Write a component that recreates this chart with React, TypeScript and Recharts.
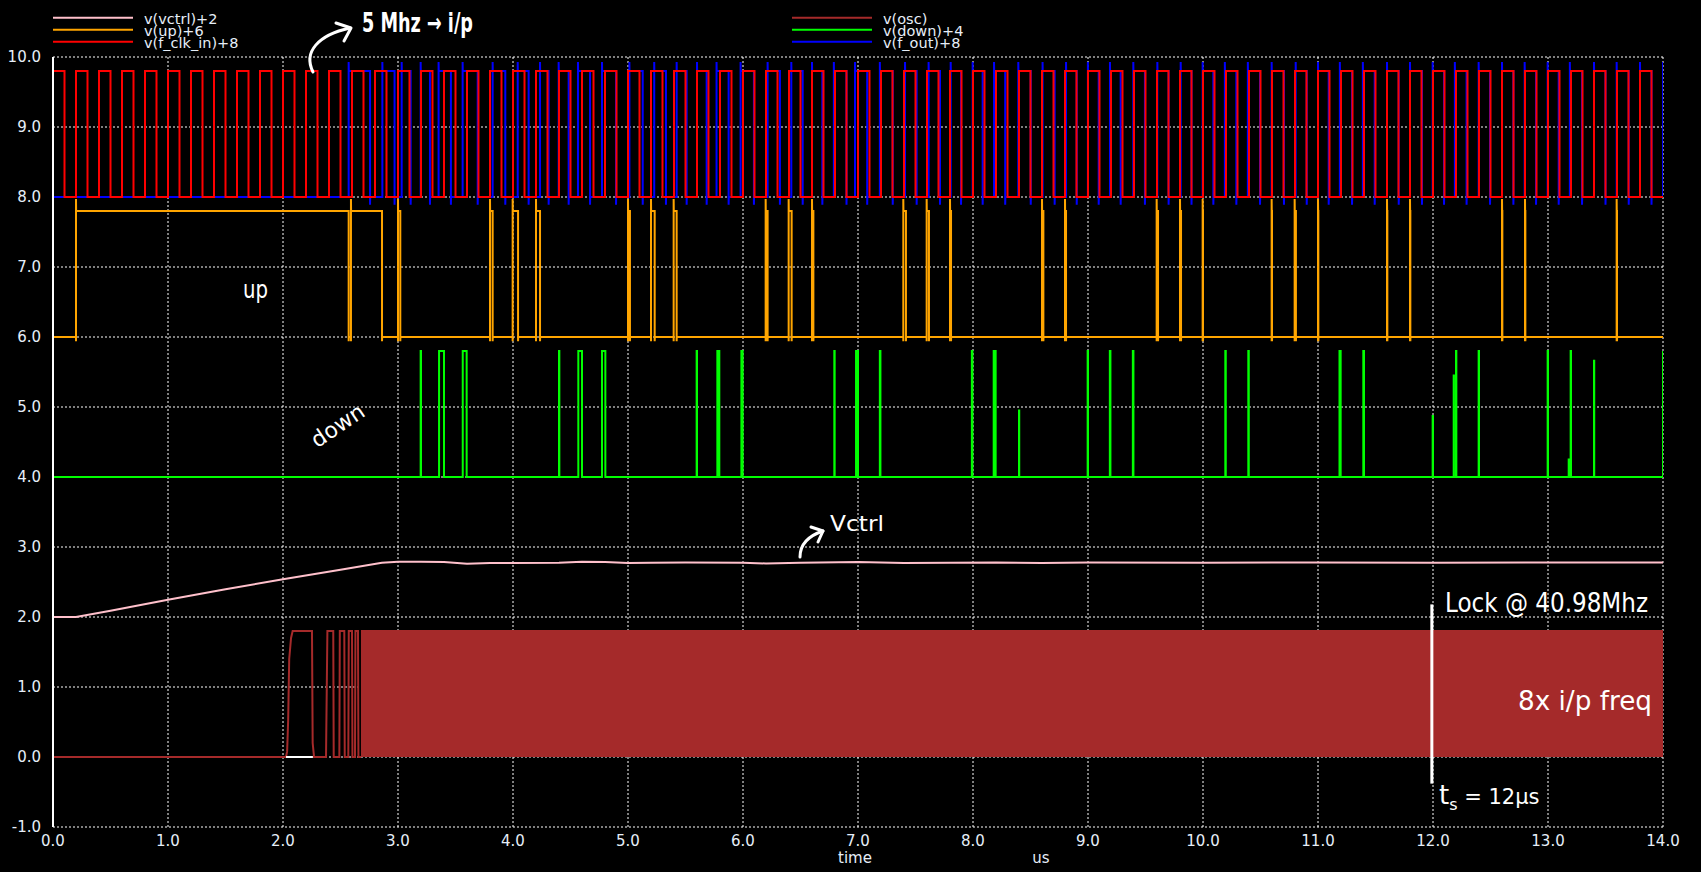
import {
  ComposedChart,
  Line,
  Area,
  XAxis,
  YAxis,
  CartesianGrid,
  ReferenceLine,
} from 'recharts';

const W = 1701;
const H = 872;

const X_TICKS = [0, 1, 2, 3, 4, 5, 6, 7, 8, 9, 10, 11, 12, 13, 14];
const Y_TICKS = [-1, 0, 1, 2, 3, 4, 5, 6, 7, 8, 9, 10];

const TEXT = '#e6eef8';
const FONT = '"DejaVu Sans", sans-serif';
const EPS = 0.001;

// v(f_clk_in)+8 : 5 MHz reference clock, rising edges in us
const CLK_RISE = [
  0, 0.2, 0.4, 0.6, 0.8, 1.0, 1.2, 1.4, 1.6, 1.8,
  2.0, 2.2, 2.4, 2.6, 2.8, 3.0, 3.2, 3.4, 3.6, 3.8,
  4.0, 4.2, 4.4, 4.6, 4.8, 5.0, 5.2, 5.4, 5.6, 5.8,
  6.0, 6.2, 6.4, 6.6, 6.8, 7.0, 7.2, 7.4, 7.6, 7.8,
  8.0, 8.2, 8.4, 8.6, 8.8, 9.0, 9.2, 9.4, 9.6, 9.8,
  10.0, 10.2, 10.4, 10.6, 10.8, 11.0, 11.2, 11.4, 11.6, 11.8,
  12.0, 12.2, 12.4, 12.6, 12.8, 13.0, 13.2, 13.4, 13.6, 13.8,
];
const CLK_HIGH_TIME = 0.1;
const CLK_LO = 8.0;
const CLK_HI = 9.8;

// v(f_out)+8 : divided oscillator output
const FOUT_RISE = [
  2.571, 2.864, 3.032, 3.197, 3.353, 3.562, 3.823, 4.041, 4.235, 4.397,
  4.565, 4.774, 5.012, 5.228, 5.423, 5.6, 5.77, 5.979, 6.214, 6.42,
  6.6, 6.79, 6.974, 7.19, 7.409, 7.614, 7.806, 7.997, 8.183, 8.394,
  8.605, 8.809, 8.999, 9.191, 9.394, 9.603, 9.806, 9.997, 10.19, 10.39,
  10.597, 10.806, 11.0, 11.19, 11.39, 11.6, 11.8, 11.997, 12.19, 12.397,
  12.6, 12.797, 12.997, 13.19, 13.4, 13.597, 13.8, 14.0,
];
const FOUT_FALL = [
  2.757, 2.97, 3.11, 3.278, 3.46, 3.693, 3.933, 4.136, 4.31, 4.484,
  4.67, 4.896, 5.128, 5.33, 5.51, 5.684, 5.875, 6.095, 6.321, 6.519,
  6.69, 6.9, 7.08, 7.302, 7.51, 7.713, 7.896, 8.084, 8.28, 8.502,
  8.71, 8.902, 9.093, 9.284, 9.495, 9.701, 9.9, 10.09, 10.29, 10.496,
  10.704, 10.902, 11.093, 11.296, 11.493, 11.702, 11.904, 12.096, 12.292, 12.496,
  12.699, 12.896, 13.093, 13.296, 13.5, 13.702, 13.9,
];
const FOUT_PEAK = 9.93;
const FOUT_DIP = 7.89;

// v(up)+6 : [start, end] of each pulse
const UP_PULSES: [number, number][] = [
  [0.2, 2.571], [2.591, 2.861], [3.0, 3.02], [3.8, 3.823], [3.997, 4.044],
  [4.2, 4.235], [5.0, 5.017], [5.2, 5.232], [5.397, 5.423], [6.197, 6.214],
  [6.397, 6.423], [6.6, 6.612], [7.394, 7.417], [7.597, 7.617], [7.8, 7.809],
  [8.6, 8.612], [8.8, 8.809], [9.597, 9.609], [9.8, 9.809], [9.997, 10.0],
  [10.597, 10.6], [10.797, 10.808], [11.0, 11.003], [11.6, 11.603], [11.8, 11.803],
  [12.6, 12.603], [12.8, 12.803], [13.597, 13.6],
];
const UP_LO = 6.0;
const UP_HI = 7.8;
const UP_PEAK = 7.97;
const UP_DIP = 5.94;

// v(down)+4 : [start, end, peak]
const DOWN_PULSES: [number, number, number][] = [
  [3.197, 3.2, 5.8], [3.357, 3.4, 5.8], [3.563, 3.597, 5.8], [4.4, 4.403, 5.8],
  [4.568, 4.6, 5.8], [4.774, 4.803, 5.8], [5.597, 5.6, 5.8], [5.777, 5.794, 5.8],
  [5.986, 5.997, 5.8], [6.794, 6.797, 5.8], [6.983, 7.0, 5.8], [7.19, 7.195, 5.8],
  [7.99, 7.995, 5.8], [8.18, 8.197, 5.8], [8.4, 8.402, 4.95], [8.997, 9.0, 5.8],
  [9.19, 9.195, 5.8], [9.39, 9.395, 5.8], [10.194, 10.198, 5.8], [10.394, 10.398, 5.8],
  [11.187, 11.197, 5.8], [11.394, 11.4, 5.8], [11.997, 12.0, 4.87], [12.18, 12.182, 5.45],
  [12.2, 12.203, 5.8], [12.397, 12.4, 5.8], [12.997, 13.0, 5.8], [13.18, 13.182, 4.25],
  [13.197, 13.2, 5.8], [13.4, 13.402, 5.66],
];
const DOWN_LO = 4.0;
const DOWN_HI = 5.8;

// v(vctrl)+2
const VCTRL_T = [0, 0.2, 0.5, 1.0, 1.5, 2.0, 2.5, 2.86, 3.0, 3.2, 3.4, 3.6, 3.8, 4.0, 4.4, 4.6, 4.8, 5.0, 5.2, 5.5, 6.0, 6.2, 6.5, 7.0, 7.4, 7.8, 8.2, 8.6, 9.0, 10, 11, 12, 13, 14];
const VCTRL_V = [2.0, 2.0, 2.09, 2.245, 2.395, 2.54, 2.675, 2.775, 2.79, 2.79, 2.785, 2.76, 2.77, 2.77, 2.775, 2.79, 2.785, 2.77, 2.775, 2.78, 2.775, 2.765, 2.775, 2.785, 2.77, 2.775, 2.78, 2.77, 2.78, 2.775, 2.78, 2.775, 2.78, 2.78];

// v(osc) start-up, then a dense ~41 MHz oscillation between 0 and 1.8
const OSC_T = [0, 2.026, 2.036, 2.045, 2.054, 2.07, 2.084, 2.252, 2.258, 2.27, 2.374, 2.386, 2.437, 2.441, 2.49, 2.494, 2.533, 2.537, 2.568, 2.572, 2.6, 2.604, 2.626, 2.63, 2.652, 2.656, 2.678];
const OSC_V = [0, 0, 0.08, 0.53, 1.4, 1.7, 1.8, 1.8, 0.2, 0, 0, 1.8, 1.8, 0, 0, 1.8, 1.8, 0, 0, 1.8, 1.8, 0, 0, 1.8, 1.8, 0, 0];
const OSC_BURST_T = [2.678, 14];
const OSC_BURST_V = [1.8, 1.8];
const WHITE_T = [2.026, 2.26];
const WHITE_V = [0, 0];

const LEGEND = [
  { label: 'v(vctrl)+2', color: '#ffc0cb', col: 0, row: 0 },
  { label: 'v(up)+6', color: '#ffa500', col: 0, row: 1 },
  { label: 'v(f_clk_in)+8', color: '#ff0000', col: 0, row: 2 },
  { label: 'v(osc)', color: '#a52a2a', col: 1, row: 0 },
  { label: 'v(down)+4', color: '#00ff00', col: 1, row: 1 },
  { label: 'v(f_out)+8', color: '#0000ff', col: 1, row: 2 },
];

type P = { t: number; v: number };
const zip = (ts: number[], vs: number[]): P[] => ts.map((t, i) => ({ t, v: vs[i] }));

function clockPoints(): P[] {
  const out: P[] = [];
  CLK_RISE.forEach((r) => {
    const f = r + CLK_HIGH_TIME;
    out.push({ t: r, v: CLK_LO }, { t: r, v: CLK_HI }, { t: f, v: CLK_HI }, { t: f, v: CLK_LO });
  });
  out.push({ t: 14, v: CLK_LO });
  return out;
}

function foutPoints(): P[] {
  const out: P[] = [{ t: 0, v: CLK_LO }];
  FOUT_RISE.forEach((r, i) => {
    out.push({ t: r, v: CLK_LO }, { t: r, v: FOUT_PEAK }, { t: r + EPS, v: CLK_HI });
    const f = FOUT_FALL[i];
    if (f !== undefined) {
      out.push({ t: f, v: CLK_HI }, { t: f, v: FOUT_DIP }, { t: f + EPS, v: CLK_LO });
    }
  });
  return out;
}

function upPoints(): P[] {
  const out: P[] = [{ t: 0, v: UP_LO }];
  UP_PULSES.forEach(([s, e]) => {
    out.push(
      { t: s, v: UP_LO }, { t: s, v: UP_DIP }, { t: s, v: UP_PEAK },
      { t: s + EPS, v: UP_HI }, { t: e, v: UP_HI }, { t: e, v: UP_DIP }, { t: e + EPS, v: UP_LO },
    );
  });
  out.push({ t: 14, v: UP_LO });
  return out;
}

function downPoints(): P[] {
  const out: P[] = [{ t: 0, v: DOWN_HI }, { t: 0, v: DOWN_LO }];
  DOWN_PULSES.forEach(([s, e, pk]) => {
    out.push({ t: s, v: DOWN_LO }, { t: s, v: pk }, { t: e, v: pk }, { t: e, v: DOWN_LO });
  });
  out.push({ t: 14, v: DOWN_LO }, { t: 14, v: DOWN_HI });
  return out;
}

const clkData = clockPoints();
const foutData = foutPoints();
const upData = upPoints();
const downData = downPoints();
const vctrlData = zip(VCTRL_T, VCTRL_V);
const oscData = zip(OSC_T, OSC_V);
const burstData = zip(OSC_BURST_T, OSC_BURST_V);
const whiteData = zip(WHITE_T, WHITE_V);

const lineProps = {
  dataKey: 'v',
  type: 'linear' as const,
  dot: false,
  activeDot: false,
  strokeWidth: 2,
  isAnimationActive: false,
};

function Annotations() {
  const hand = { fill: '#ffffff', fontFamily: FONT };
  return (
    <svg width={W} height={H} style={{ position: 'absolute', left: 0, top: 0, pointerEvents: 'none' }}>
      {LEGEND.map((l) => {
        const x0 = l.col === 0 ? 53 : 792;
        const y = 17.7 + l.row * 12;
        return (
          <g key={l.label}>
            <line x1={x0} x2={x0 + 80} y1={y} y2={y} stroke={l.color} strokeWidth={2} />
            <text x={x0 + 91} y={y + 6} fill={TEXT} fontSize={14.5} fontFamily={FONT}>{l.label}</text>
          </g>
        );
      })}
      <text x={855} y={863} fill={TEXT} fontSize={15} fontFamily={FONT} textAnchor="middle">time</text>
      <text x={1041} y={863} fill={TEXT} fontSize={15} fontFamily={FONT} textAnchor="middle">us</text>

      <path d="M313,72 C303,52 318,35 350,28" stroke="#fff" strokeWidth={3} fill="none" strokeLinecap="round" />
      <path d="M336,23 L351,28 L344,41" stroke="#fff" strokeWidth={3} fill="none" strokeLinecap="round" strokeLinejoin="round" />
      <text x={362} y={32} fontSize={26} fontWeight={600} textLength={111} lengthAdjust="spacingAndGlyphs" {...hand}>5 Mhz → i/p</text>

      <text x={243} y={298} fontSize={24} textLength={25} lengthAdjust="spacingAndGlyphs" {...hand}>up</text>
      <text x={338} y={433} fontSize={22} textAnchor="middle" transform="rotate(-34 338 426)" {...hand}>down</text>

      <path d="M800,557 C800,545 808,536 823,531" stroke="#fff" strokeWidth={3} fill="none" strokeLinecap="round" />
      <path d="M811,527 L823,531 L818,542" stroke="#fff" strokeWidth={3} fill="none" strokeLinecap="round" strokeLinejoin="round" />
      <text x={830} y={531} fontSize={22} textLength={54} lengthAdjust="spacingAndGlyphs" {...hand}>Vctrl</text>

      <text x={1445} y={612} fontSize={26} textLength={203} lengthAdjust="spacingAndGlyphs" {...hand}>Lock @ 40.98Mhz</text>
      <text x={1518} y={710} fontSize={26} textLength={134} lengthAdjust="spacingAndGlyphs" {...hand}>8x i/p freq</text>
      <text x={1439} y={804} fontSize={26} {...hand}>
        t<tspan fontSize={16} dy={6}>s</tspan><tspan dy={-6} fontSize={21}> = 12μs</tspan>
      </text>
    </svg>
  );
}

export default function App() {
  return (
    <div style={{ position: 'absolute', left: 0, top: 0, width: W, height: H, background: '#000', overflow: 'hidden' }}>
      <ComposedChart width={W} height={H} margin={{ top: 57, right: 38, bottom: 15, left: 0 }}>
        <CartesianGrid stroke="#ffffff" strokeDasharray="2 2" />
        <XAxis
          type="number"
          dataKey="t"
          domain={[0, 14]}
          ticks={X_TICKS}
          allowDataOverflow
          height={30}
          axisLine={false}
          tickLine={false}
          tickSize={6}
          tickMargin={2}
          tickFormatter={(v: number) => v.toFixed(1)}
          tick={{ fill: TEXT, fontSize: 15, fontFamily: FONT }}
        />
        <YAxis
          type="number"
          dataKey="v"
          domain={[-1, 10]}
          ticks={Y_TICKS}
          allowDataOverflow
          width={53}
          axisLine={{ stroke: '#ffffff', strokeWidth: 2 }}
          tickLine={false}
          tickSize={6}
          tickMargin={6}
          tickFormatter={(v: number) => v.toFixed(1)}
          tick={{ fill: TEXT, fontSize: 15, fontFamily: FONT }}
        />
        <Area
          data={burstData}
          dataKey="v"
          type="linear"
          baseValue={0}
          fill="#a52a2a"
          fillOpacity={1}
          stroke="#a52a2a"
          strokeWidth={2}
          dot={false}
          activeDot={false}
          isAnimationActive={false}
        />
        <Line {...lineProps} data={oscData} stroke="#a52a2a" />
        <Line {...lineProps} data={whiteData} stroke="#ffffff" />
        <Line {...lineProps} data={vctrlData} stroke="#ffc0cb" />
        <Line {...lineProps} data={downData} stroke="#00ff00" />
        <Line {...lineProps} data={upData} stroke="#ffa500" />
        <Line {...lineProps} data={foutData} stroke="#0000ff" />
        <Line {...lineProps} data={clkData} stroke="#ff0000" />
        <ReferenceLine
          segment={[{ x: 11.99, y: 2.18 }, { x: 11.99, y: -0.38 }]}
          stroke="#ffffff"
          strokeWidth={3}
          ifOverflow="visible"
        />
      </ComposedChart>
      <Annotations />
    </div>
  );
}
